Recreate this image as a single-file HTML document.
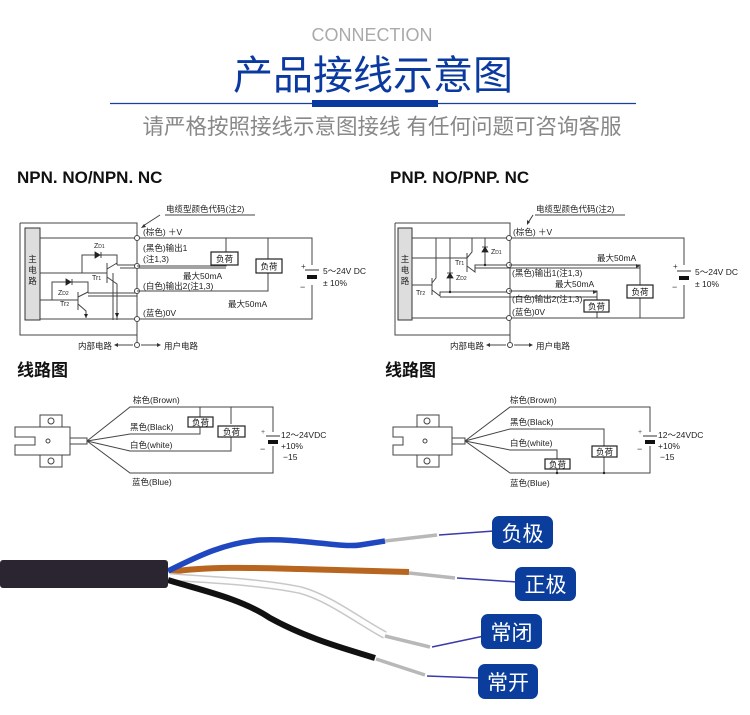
<!DOCTYPE html>
<html><head><meta charset="utf-8"><style>
html,body{margin:0;padding:0;background:#fff}
svg{display:block}
text{font-family:"Liberation Sans","Noto Sans CJK SC",sans-serif}
.t{font-size:8.5px;fill:#222}
.w{stroke:#444;stroke-width:1;fill:none}
.b{fill:#fff;stroke:#222;stroke-width:1.2}
.bt{font-size:8.5px;fill:#111}
.o{fill:#fff;stroke:#444;stroke-width:1}
.bd{fill:#0b3d9c}
.bx{font-size:21px;fill:#fff}
</style></head><body>
<svg width="750" height="715" viewBox="0 0 750 715" xmlns="http://www.w3.org/2000/svg">
<!-- header -->
<text x="372" y="41" text-anchor="middle" font-size="18" fill="#aaa" font-weight="300">CONNECTION</text>
<text x="373" y="89" text-anchor="middle" font-size="40" fill="#0a3aa0">产品接线示意图</text>
<line x1="110" y1="103.5" x2="636" y2="103.5" stroke="#1a3f9e" stroke-width="1.2"/>
<rect x="312" y="100" width="126" height="7" fill="#0a3aa0"/>
<text x="382" y="134" text-anchor="middle" font-size="21.5" fill="#888">请严格按照接线示意图接线 有任何问题可咨询客服</text>
<text x="17" y="183" font-size="17" font-weight="bold" fill="#111">NPN. NO/NPN. NC</text>
<text x="390" y="183" font-size="17" font-weight="bold" fill="#111">PNP. NO/PNP. NC</text>

<!-- NPN circuit -->
<text x="166" y="212" class="t">电缆型颜色代码(注2)</text>
<line x1="165" y1="215" x2="255" y2="215" class="w"/>
<line x1="160" y1="215" x2="143" y2="226" class="w"/>
<path d="M141 228 l5 -1 l-2 -3z" fill="#333"/>
<path d="M20 223 H137 V345 M137 335 H20 V223" class="w"/>
<rect x="25" y="228" width="15" height="92" fill="#ddd" stroke="#333"/>
<text x="32.5" y="262" class="t" text-anchor="middle">主</text>
<text x="32.5" y="273" class="t" text-anchor="middle">电</text>
<text x="32.5" y="284" class="t" text-anchor="middle">路</text>
<path d="M40 238 H312 V319 H40" class="w"/>
<path d="M40 273 H107 M82 273 V255 H117 V265 M107 263 V283 M107 269 L117 263 M107 277 L117 284 V320 M113 273 V320 M117 265 H137" class="w"/>
<path d="M95 252 l5 3 l-5 3z M101 252 v6" fill="#222" stroke="#222" stroke-width="0.8"/>
<text x="94" y="248" font-size="7" fill="#222">Z<tspan font-size="5">D1</tspan></text>
<text x="92" y="280" font-size="7" fill="#222">Tr<tspan font-size="5">1</tspan></text>
<path d="M40 300 H78 M52 300 V282 H88 V293 M78 292 V310 M78 297 L88 292 M78 304 L86 311 V318 M88 293 H137 M88 296 H137 M120 268 H226" class="w"/>
<path d="M66 279 l5 3 l-5 3z M72 279 v6" fill="#222" stroke="#222" stroke-width="0.8"/>
<text x="58" y="295" font-size="7" fill="#222">Z<tspan font-size="5">D2</tspan></text>
<text x="60" y="306" font-size="7" fill="#222">Tr<tspan font-size="5">2</tspan></text>
<path d="M115 313 l2 5 l2 -5z M84 314 l2 4 l2 -4z" fill="#222"/>
<circle cx="137" cy="238" r="2.5" class="o"/><circle cx="137" cy="266" r="2.5" class="o"/><circle cx="137" cy="291" r="2.5" class="o"/><circle cx="137" cy="319" r="2.5" class="o"/><circle cx="137" cy="345" r="2.5" class="o"/>
<path d="M137 266 H226 V265 M226 238 V252 M268 238 V259 M268 273 V291 H137" class="w"/>
<rect x="211" y="252" width="27" height="13" class="b"/><text x="224.5" y="262" class="bt" text-anchor="middle">负荷</text>
<rect x="256" y="259" width="26" height="14" class="b"/><text x="269" y="269.5" class="bt" text-anchor="middle">负荷</text>
<rect x="300" y="265" width="24" height="20" fill="#fff"/>
<line x1="305" y1="270" x2="319" y2="270" stroke="#333"/>
<rect x="307" y="275" width="10" height="4" fill="#111"/>
<text x="301" y="269" font-size="8" fill="#333">+</text><text x="300" y="290" font-size="9" fill="#333">−</text>
<text x="323" y="274" class="t">5～24V DC</text><text x="323" y="286" class="t">± 10%</text>
<text x="143" y="235" class="t">(棕色) ＋V</text>
<text x="143" y="251" class="t">(黑色)输出1</text>
<text x="143" y="262" class="t">(注1,3)</text>
<text x="183" y="279" class="t">最大50mA</text>
<text x="143" y="289" class="t">(白色)输出2(注1,3)</text>
<text x="228" y="307" class="t">最大50mA</text>
<text x="143" y="316" class="t">(蓝色)0V</text>
<text x="78" y="349" class="t">内部电路</text>
<path d="M115 345 H133 M141 345 H160" class="w"/>
<path d="M114 345 l4 -2 v4z M161 345 l-4 -2 v4z" fill="#333"/>
<text x="164" y="349" class="t">用户电路</text>

<!-- PNP circuit -->
<text x="536" y="212" class="t">电缆型颜色代码(注2)</text>
<line x1="535" y1="215" x2="625" y2="215" class="w"/>
<line x1="533" y1="215" x2="528" y2="223" class="w"/>
<path d="M527 225 l0 -5 l3 2z" fill="#333"/>
<path d="M395 223 H510 V345 M510 335 H395 V223" class="w"/>
<rect x="398" y="228" width="14" height="92" fill="#ddd" stroke="#333"/>
<text x="405" y="262" class="t" text-anchor="middle">主</text>
<text x="405" y="273" class="t" text-anchor="middle">电</text>
<text x="405" y="284" class="t" text-anchor="middle">路</text>
<path d="M412 238 H684 V318 H412" class="w"/>
<path d="M412 258 H467 M467 253 V272 M467 258 L472 252 V238 M467 266 L475 272 V265 H510 M485 238 V265 M450 238 V292 M412 285 H432 M432 278 V295 M432 283 L436 278 V238 M432 290 L440 296 V292 H510 M440 297 H597 M475 268 H640" class="w"/>
<path d="M482 252 l3 -5 l3 5z M482 247 h6 M447 278 l3 -5 l3 5z M447 273 h6" fill="#222" stroke="#222" stroke-width="0.8"/>
<text x="491" y="254" font-size="7" fill="#222">Z<tspan font-size="5">D1</tspan></text>
<text x="456" y="280" font-size="7" fill="#222">Z<tspan font-size="5">D2</tspan></text>
<text x="455" y="265" font-size="7" fill="#222">Tr<tspan font-size="5">1</tspan></text>
<text x="416" y="295" font-size="7" fill="#222">Tr<tspan font-size="5">2</tspan></text>
<circle cx="485" cy="265" r="1.2" fill="#222"/><circle cx="450" cy="292" r="1.2" fill="#222"/>
<circle cx="509" cy="238" r="2.5" class="o"/><circle cx="509" cy="265" r="2.5" class="o"/><circle cx="509" cy="291" r="2.5" class="o"/><circle cx="509" cy="318" r="2.5" class="o"/><circle cx="510" cy="345" r="2.5" class="o"/>
<path d="M509 265 H640 V285 M640 298 V318 M509 291 H597 V300 M597 312 V318" class="w"/>
<path d="M640 266 l-4 -2 v4z M597 292 l-4 -2 v4z" fill="#333"/>
<rect x="627" y="285" width="26" height="13" class="b"/><text x="640" y="295" class="bt" text-anchor="middle">负荷</text>
<rect x="584" y="300" width="25" height="12" class="b"/><text x="596.5" y="309.5" class="bt" text-anchor="middle">负荷</text>
<rect x="672" y="265" width="24" height="20" fill="#fff"/>
<line x1="677" y1="271" x2="691" y2="271" stroke="#333"/>
<rect x="679" y="276" width="10" height="4" fill="#111"/>
<text x="673" y="269" font-size="8" fill="#333">+</text><text x="672" y="290" font-size="9" fill="#333">−</text>
<text x="695" y="275" class="t">5～24V DC</text><text x="695" y="287" class="t">± 10%</text>
<text x="513" y="235" class="t">(棕色) ＋V</text>
<text x="597" y="261" class="t">最大50mA</text>
<text x="512" y="276" class="t">(黑色)输出1(注1,3)</text>
<text x="555" y="287" class="t">最大50mA</text>
<text x="512" y="302" class="t">(白色)输出2(注1,3)</text>
<text x="512" y="315" class="t">(蓝色)0V</text>
<text x="450" y="349" class="t">内部电路</text>
<path d="M487 345 H506 M514 345 H532" class="w"/>
<path d="M486 345 l4 -2 v4z M533 345 l-4 -2 v4z" fill="#333"/>
<text x="536" y="349" class="t">用户电路</text>

<text x="17" y="376" font-size="17" font-weight="bold" fill="#111">线路图</text>
<text x="385" y="376" font-size="17" font-weight="bold" fill="#111">线路图</text>

<!-- left wiring -->
<g class="w" stroke="#333">
<path d="M40 415 H62 V467 H40 Z" />
<path d="M15 427 H70 V455 H15 V445 H35 V437 H15 Z" fill="#fff"/>
<path d="M70 438 H87 V444 H70"/>
<circle cx="51" cy="421" r="3"/><circle cx="51" cy="461" r="3"/><circle cx="48" cy="441" r="2"/>
<path d="M87 441 L130 407 H273 V473 H130 L87 441 M87 441 L130 434 H200 V427 M200 407 V418 M87 441 L130 451 H231 V437 M231 407 V424"/>
</g>
<rect x="188" y="417" width="25" height="10" class="b"/><text x="200.5" y="425.5" class="bt" text-anchor="middle">负荷</text>
<rect x="218" y="426" width="27" height="11" class="b"/><text x="231.5" y="435" class="bt" text-anchor="middle">负荷</text>
<rect x="262" y="432" width="20" height="14" fill="#fff"/>
<line x1="266" y1="436" x2="280" y2="436" stroke="#333"/><rect x="268" y="440" width="10" height="4" fill="#111"/>
<text x="261" y="434" font-size="7" fill="#555">+</text><text x="260" y="452" font-size="9" fill="#333">−</text>
<text x="281" y="438" class="t">12～24VDC</text><text x="281" y="449" class="t">+10%</text><text x="283" y="460" class="t">−15</text>
<text x="133" y="403" class="t">棕色(Brown)</text>
<text x="130" y="430" class="t">黑色(Black)</text>
<text x="130" y="448" class="t">白色(white)</text>
<text x="132" y="485" class="t">蓝色(Blue)</text>

<!-- right wiring -->
<g class="w" stroke="#333">
<path d="M417 415 H439 V467 H417 Z"/>
<path d="M393 427 H452 V455 H393 V445 H403 V437 H393 Z" fill="#fff"/>
<path d="M452 438 H465 V444 H452"/>
<circle cx="427" cy="421" r="3"/><circle cx="427" cy="461" r="3"/><circle cx="425" cy="441" r="2"/>
<path d="M465 441 L510 407 H650 V473 H510 L465 441 M465 441 L510 429 H604 V446 M604 457 V473 M465 441 L510 450 H557 V459 M557 468 V473"/>
</g>
<rect x="592" y="446" width="25" height="11" class="b"/><text x="604.5" y="455" class="bt" text-anchor="middle">负荷</text>
<rect x="545" y="459" width="25" height="10" class="b"/><text x="557.5" y="467.5" class="bt" text-anchor="middle">负荷</text>
<circle cx="604" cy="473" r="1.2" fill="#222"/><circle cx="557" cy="473" r="1.2" fill="#222"/>
<rect x="639" y="432" width="20" height="14" fill="#fff"/>
<line x1="643" y1="436" x2="657" y2="436" stroke="#333"/><rect x="645" y="440" width="10" height="4" fill="#111"/>
<text x="638" y="434" font-size="7" fill="#555">+</text><text x="637" y="452" font-size="9" fill="#333">−</text>
<text x="658" y="438" class="t">12～24VDC</text><text x="658" y="449" class="t">+10%</text><text x="660" y="460" class="t">−15</text>
<text x="510" y="403" class="t">棕色(Brown)</text>
<text x="510" y="425" class="t">黑色(Black)</text>
<text x="510" y="446" class="t">白色(white)</text>
<text x="510" y="486" class="t">蓝色(Blue)</text>

<!-- cable photo -->
<path d="M170 572 C210 566 260 568 300 569 C340 570 380 571 409 572" stroke="#b8651f" stroke-width="6" fill="none"/>
<path d="M170 577 C215 580 260 582 300 590 C330 598 360 622 385 635" stroke="#c8c8c8" stroke-width="8" fill="none"/>
<path d="M170 577 C215 580 260 582 300 590 C330 598 360 622 385 635" stroke="#fdfdfd" stroke-width="5" fill="none"/>
<path d="M168 580 C200 590 240 598 270 618 C310 640 350 650 375 658" stroke="#111" stroke-width="6" fill="none"/>
<path d="M168 571 C200 555 225 543 260 540 C300 538 340 548 360 545 L385 541" stroke="#1f47c0" stroke-width="5.5" fill="none"/>
<rect x="0" y="560" width="168" height="28" rx="3" fill="#2a2530"/>
<g stroke="#b8b8b8" stroke-width="3.5" fill="none">
<path d="M385 541 L437 535"/><path d="M409 573 L455 578"/><path d="M385 636 L430 647"/><path d="M376 659 L425 675"/>
</g>
<g stroke="#3a3aa8" stroke-width="1.5">
<line x1="439" y1="535" x2="494" y2="531"/><line x1="457" y1="578" x2="517" y2="582"/><line x1="432" y1="647" x2="484" y2="636"/><line x1="427" y1="676" x2="480" y2="678"/>
</g>
<rect x="492" y="516" width="61" height="33" rx="7" class="bd"/><text x="522.5" y="541" class="bx" text-anchor="middle">负极</text>
<rect x="515" y="567" width="61" height="34" rx="7" class="bd"/><text x="545.5" y="592" class="bx" text-anchor="middle">正极</text>
<rect x="481" y="614" width="61" height="35" rx="7" class="bd"/><text x="511.5" y="640" class="bx" text-anchor="middle">常闭</text>
<rect x="478" y="664" width="60" height="35" rx="7" class="bd"/><text x="508" y="690" class="bx" text-anchor="middle">常开</text>
</svg>
</body></html>
